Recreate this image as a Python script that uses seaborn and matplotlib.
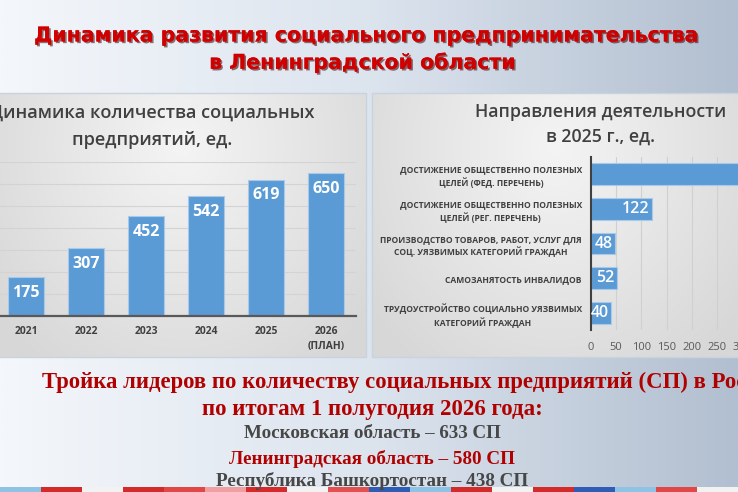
import numpy as np
import pandas as pd
import matplotlib
matplotlib.use("Agg")
import matplotlib.pyplot as plt
import seaborn as sns
from matplotlib import patheffects as pe
from matplotlib.colors import LinearSegmentedColormap
from matplotlib.patches import Rectangle

# ---------------- data ----------------
years = ["2021", "2022", "2023", "2024", "2025", "2026\n(ПЛАН)"]
counts = [175, 307, 452, 542, 619, 650]

directions = [
    "ДОСТИЖЕНИЕ ОБЩЕСТВЕННО ПОЛЕЗНЫХ\nЦЕЛЕЙ (ФЕД. ПЕРЕЧЕНЬ)",
    "ДОСТИЖЕНИЕ ОБЩЕСТВЕННО ПОЛЕЗНЫХ\nЦЕЛЕЙ (РЕГ. ПЕРЕЧЕНЬ)",
    "ПРОИЗВОДСТВО ТОВАРОВ, РАБОТ, УСЛУГ ДЛЯ\nСОЦ. УЯЗВИМЫХ КАТЕГОРИЙ ГРАЖДАН",
    "САМОЗАНЯТОСТЬ ИНВАЛИДОВ",
    "ТРУДОУСТРОЙСТВО СОЦИАЛЬНО УЯЗВИМЫХ\nКАТЕГОРИЙ ГРАЖДАН",
]
direction_counts = [357, 122, 48, 52, 40]
x_ticks_right = [0, 50, 100, 150, 200, 250, 300]

leader_regions = ["Московская область", "Ленинградская область", "Республика Башкортостан"]
leader_counts = [633, 580, 438]

main_title = ["Динамика развития социального предпринимательства", "в Ленинградской области"]
left_title = ["Динамика количества социальных", "предприятий, ед."]
right_title = ["Направления деятельности", "в 2025 г., ед."]
bottom_head = ["Тройка лидеров по количеству социальных предприятий (СП) в России",
               "по итогам 1 полугодия 2026 года:"]

# ---------------- style ----------------
sns.set_theme(style="white")
plt.rcParams['font.family'] = ['Open Sans', 'DejaVu Sans']

W, H = 738, 492
fig = plt.figure(figsize=(W / 100, H / 100), dpi=100)
renderer = fig.canvas.get_renderer()

def fx(px):
    return px / W

def fy(py):
    return 1 - py / H

def fit(t, target):
    w = t.get_window_extent(renderer).width
    t.set_fontsize(t.get_fontsize() * target / w)
    return t.get_fontsize()

# ---------------- background ----------------
bg = fig.add_axes([0, 0, 1, 1], zorder=-10)
bg.set_xlim(0, W)
bg.set_ylim(H, 0)
bg.axis('off')
slide_cmap = LinearSegmentedColormap.from_list("slide", ["#F4F7FB", "#DCE4EE", "#B2BFD0"])
gx = np.linspace(0, 1, 300)[None, :] * np.ones((20, 1))
bg.imshow(gx, cmap=slide_cmap, extent=[0, W, H, 0], aspect='auto', zorder=0)

panel_cmap = LinearSegmentedColormap.from_list("panel", ["#F4F4F4", "#E6E6E6", "#D7D7D7"])
def panel(x0, x1, y0, y1):
    u = np.linspace(0, 1, 200)[None, :]
    v = np.linspace(0, 1, 120)[:, None]
    d = np.sqrt(((u - 0.5) / 0.65) ** 2 + ((v - 0.2) / 1.05) ** 2)
    d = np.clip(d, 0, 1)
    bg.imshow(d, cmap=panel_cmap, vmin=0, vmax=1, extent=[x0, x1, y1, y0],
              aspect='auto', zorder=1)
    bg.add_patch(Rectangle((x0, y0), x1 - x0, y1 - y0, fill=False,
                           edgecolor="#C9D3DE", lw=1, zorder=2))

panel(-2, 366, 93, 357)
panel(372, 740, 93, 357)

# decorative ribbon at the bottom
ribbon_cols = ["#8EC3E6", "#D42A2A", "#F2F2F2", "#D42A2A", "#E04848", "#F0A0A0",
               "#D42A2A", "#F2F2F2", "#E35050", "#2F5DB5", "#8EC3E6", "#D42A2A",
               "#F2F2F2", "#D42A2A", "#2F5DB5", "#8EC3E6", "#E04848", "#F2F2F2"]
seg = W / len(ribbon_cols)
for i, c in enumerate(ribbon_cols):
    bg.add_patch(Rectangle((i * seg, 487), seg + 1, 6, color=c, lw=0, zorder=3))

# ---------------- main title ----------------
red_title = "#D00000"
shadow = [pe.withSimplePatchShadow(offset=(1.2, -1.2), shadow_rgbFace="#3A0000", alpha=0.55), pe.Normal()]
t1 = fig.text(fx(368), fy(36), main_title[0], ha='center', va='center', color=red_title,
              fontsize=14, fontweight='bold', family=['DejaVu Sans'], path_effects=shadow)
fs = fit(t1, 666)
fig.text(fx(363), fy(63), main_title[1], ha='center', va='center', color=red_title,
         fontsize=fs, fontweight='bold', family=['DejaVu Sans'], path_effects=shadow)

# ---------------- left chart ----------------
bar_blue = "#5B9BD5"
ax1 = fig.add_axes([fx(-4), fy(315.6), fx(360), (315.6 - 161.7) / H])
df1 = pd.DataFrame({"year": years, "count": counts})
sns.barplot(data=df1, x="year", y="count", color=bar_blue, saturation=1, width=0.6,
            edgecolor="#A8C9E8", linewidth=0.8, ax=ax1, zorder=3)
ax1.patch.set_alpha(0)
ax1.set_xlim(-0.5, 5.5)
ax1.set_ylim(0, 700)
ax1.set_yticks(range(100, 701, 100))
ax1.set_yticklabels([])
ax1.grid(axis='y', color="#D3D3D3", lw=0.8, zorder=0)
ax1.grid(axis='x', visible=False)
for s in ['left', 'right', 'top']:
    ax1.spines[s].set_visible(False)
ax1.spines['bottom'].set_color("#595959")
ax1.spines['bottom'].set_linewidth(1.6)
ax1.spines['bottom'].set_zorder(5)
ax1.set_xlabel("")
ax1.set_ylabel("")
ax1.tick_params(axis='both', length=0)
ax1.tick_params(axis='x', pad=7.5)
for lbl in ax1.get_xticklabels():
    lbl.set_fontsize(7.4)
    lbl.set_fontweight('bold')
    lbl.set_color("#404040")
    lbl.set_linespacing(1.55)
for i, v in enumerate(counts):
    ax1.annotate(str(v), (i, v), xytext=(0, -11.5), textcoords='offset points',
                 ha='center', va='center', color='white', fontsize=11.5,
                 fontweight='bold', zorder=6)

tl2 = fig.text(fx(152), fy(140), left_title[1], ha='center', va='center',
               color="#404040", fontsize=13, fontweight='semibold')
fs = fit(tl2, 160)
fig.text(fx(152), fy(113), left_title[0], ha='center', va='center',
         color="#404040", fontsize=fs, fontweight='semibold')

# ---------------- right chart ----------------
# axis runs off the right edge of the slide, as in the original
ax2 = fig.add_axes([fx(591), fy(330.4), fx(300 * 0.504), (330.4 - 156.6) / H])
df2 = pd.DataFrame({"direction": directions, "n": direction_counts})
sns.barplot(data=df2, y="direction", x="n", orient='h', color=bar_blue, saturation=1,
            width=0.62, edgecolor="#A8C9E8", linewidth=0.8, ax=ax2, zorder=3)
ax2.patch.set_alpha(0)
ax2.set_xlim(0, 300)
ax2.set_ylim(4.5, -0.5)
ax2.set_xticks(x_ticks_right)
ax2.set_xticklabels([str(v) for v in x_ticks_right])
ax2.grid(axis='x', color="#D0D0D0", lw=0.8, zorder=0)
ax2.grid(axis='y', visible=False)
for s in ['bottom', 'right', 'top']:
    ax2.spines[s].set_visible(False)
ax2.spines['left'].set_color("#404040")
ax2.spines['left'].set_linewidth(1.5)
ax2.spines['left'].set_zorder(5)
ax2.set_xlabel("")
ax2.set_ylabel("")
ax2.tick_params(axis='both', length=0)
ax2.tick_params(axis='y', pad=6.5)
ax2.tick_params(axis='x', pad=8)
for lbl in ax2.get_xticklabels():
    lbl.set_fontsize(8)
    lbl.set_color("#595959")

tmp = fig.text(0, 0, "ПРОИЗВОДСТВО ТОВАРОВ, РАБОТ, УСЛУГ ДЛЯ", fontsize=6, fontweight='bold')
cat_fs = fit(tmp, 203)
tmp.remove()
for lbl in ax2.get_yticklabels():
    lbl.set_fontsize(cat_fs)
    lbl.set_fontweight('bold')
    lbl.set_color("#404040")
    lbl.set_multialignment('center')
    lbl.set_linespacing(1.35)
for i, v in enumerate(direction_counts):
    ax2.annotate(str(v), (v, i), xytext=(-2, 0), textcoords='offset points',
                 ha='right', va='center', color='white', fontsize=11.5,
                 fontweight='semibold', zorder=6, annotation_clip=True)

tr1 = fig.text(fx(601), fy(112), right_title[0], ha='center', va='center',
               color="#404040", fontsize=13, fontweight='semibold')
fs = fit(tr1, 251)
fig.text(fx(601), fy(137), right_title[1], ha='center', va='center',
         color="#404040", fontsize=fs, fontweight='semibold')

# ---------------- bottom text ----------------
serif = ['Liberation Serif', 'DejaVu Serif']
dark_red = "#B00000"
gray = "#474747"
tmp = fig.text(0, 0, "Тройка лидеров по количеству социальных предприятий (СП) в Ро",
               fontsize=16, fontweight='bold', family=serif)
fs_head = fit(tmp, 696)
tmp.remove()
fig.text(fx(42), fy(382), bottom_head[0], ha='left', va='center', color=dark_red,
         fontsize=fs_head, fontweight='bold', family=serif)
tb2 = fig.text(fx(372), fy(410), bottom_head[1], ha='center', va='center', color=dark_red,
               fontsize=fs_head, fontweight='bold', family=serif)
fit(tb2, 341)

leader_y = [434, 459, 481]
leader_col = [gray, dark_red, gray]
leader_w = [256, 286, 311]
for r, v, y, c, w in zip(leader_regions, leader_counts, leader_y, leader_col, leader_w):
    t = fig.text(fx(372), fy(y), f"{r} – {v} СП", ha='center', va='center', color=c,
                 fontsize=12, fontweight='bold', family=serif)
    fit(t, w)

fig.savefig("out.png", dpi=100)
